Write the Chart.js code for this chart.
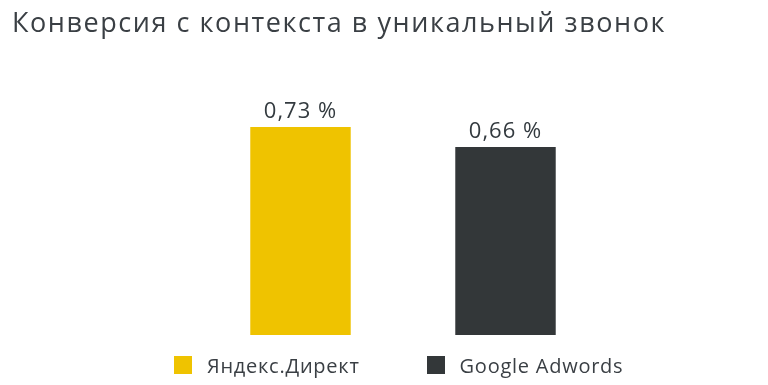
<!DOCTYPE html>
<html lang="ru">
<head>
<meta charset="utf-8">
<script src="https://cdn.jsdelivr.net/npm/chart.js@4/dist/chart.umd.min.js"></script>
<style>
  html, body { margin: 0; padding: 0; background: #fff; }
  #wrap { position: relative; width: 768px; height: 385px; overflow: hidden; }
  #title {
    position: absolute; left: 12px; top: 8px; letter-spacing: 1.55px;
    font: 27px/27px "Open Sans", sans-serif; color: #3a3f44; white-space: nowrap;
  }
  #legend {
    position: absolute; left: 174px; top: 356px; display: flex; gap: 67px;
    font: 20px "Open Sans", sans-serif; color: #3a3f44; letter-spacing: 0.75px;
  }
  .item { display: flex; align-items: center; height: 18px; }
  .box { width: 18px; height: 18px; margin-right: 15px; }
  canvas { position: absolute; left: 0; top: 0; }
</style>
</head>
<body>
<div id="wrap">
  <canvas id="chart" width="768" height="385"></canvas>
  <div id="title">Конверсия с контекста в уникальный звонок</div>
  <div id="legend"></div>
</div>
<script>
// data
const categories = ['Яндекс.Директ', 'Google Adwords'];
const yandex = [0.73, null];
const google = [null, 0.66];
const valueLabels = ['0,73 %', '0,66 %'];
const colors = ['#efc300', '#333739'];

// legend in html, so the gap between items can be wide
const legend = document.getElementById('legend');
categories.forEach((name, i) => {
  const item = document.createElement('div');
  item.className = 'item';
  item.innerHTML = '<span class="box" style="background:' + colors[i] + '"></span>' + name;
  legend.appendChild(item);
});

// value above each bar
const barLabels = {
  id: 'barLabels',
  afterDatasetsDraw(chart) {
    const ctx = chart.ctx;
    ctx.save();
    ctx.font = '22px "Open Sans", sans-serif';
    ctx.letterSpacing = '1px';
    ctx.fillStyle = '#333a3f';
    ctx.textAlign = 'center';
    ctx.textBaseline = 'alphabetic';
    chart.data.datasets.forEach((ds, d) => {
      chart.getDatasetMeta(d).data.forEach((bar, i) => {
        if (ds.data[i] == null) return;
        ctx.fillText(valueLabels[i], bar.x, bar.y - 9);
      });
    });
    ctx.restore();
  }
};

new Chart(document.getElementById('chart'), {
  type: 'bar',
  data: {
    labels: categories,
    datasets: [
      { label: categories[0], data: yandex, backgroundColor: colors[0] },
      { label: categories[1], data: google, backgroundColor: colors[1] }
    ]
  },
  options: {
    responsive: false,
    animation: false,
    layout: { padding: { top: 50, bottom: 50, left: 198, right: 160 } },
    datasets: { bar: { grouped: false, barPercentage: 0.49, categoryPercentage: 1 } },
    scales: {
      x: { display: false },
      y: { display: false, min: 0, max: 1 }
    },
    plugins: {
      legend: { display: false },
      tooltip: { enabled: false }
    }
  },
  plugins: [barLabels]
});
</script>
</body>
</html>
